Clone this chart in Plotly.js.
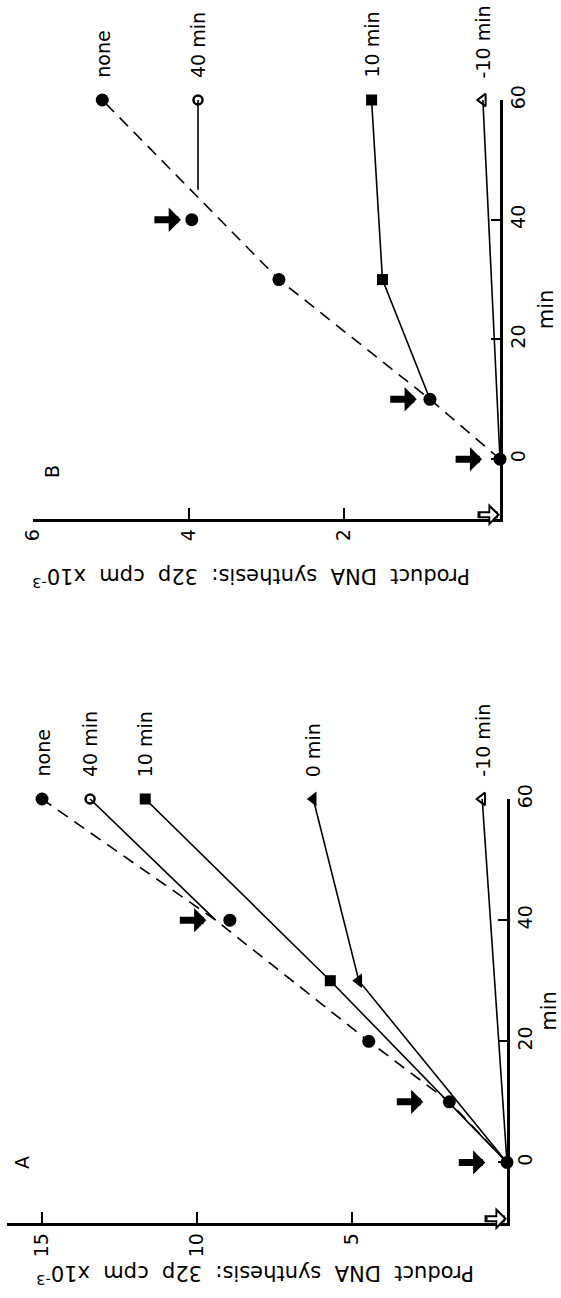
<!DOCTYPE html>
<html><head><meta charset="utf-8">
<script src="https://cdn.plot.ly/plotly-3.0.1.min.js"></script>
<style>html,body{margin:0;padding:0;background:#fff}#chart{width:561px;height:1298px}</style>
</head><body><div id="chart"></div>
<script>
// ---------- Panel A (time in min vs product DNA synthesis, cpm x10^-3) ----------
const A_none_t = [0, 10, 20, 40, 60];
const A_none_v = [0, 1.86, 4.46, 8.94, 15.0];
const A_noneCurve_t = [0, 10, 20, 40, 60];
const A_noneCurve_v = [0, 1.86, 4.46, 9.4, 15.0];
const A_m40_t = [40, 60];
const A_m40_v = [9.4, 13.45];
const A_m10_t = [0, 30, 60];
const A_m10_v = [0, 5.7, 11.67];
const A_m0_t = [0, 30, 60];
const A_m0_v = [0, 4.78, 6.25];
const A_mm10_t = [0, 60];
const A_mm10_v = [0, 0.8];
const A_arrow_t = [0, 10, 40];
const A_arrow_v = [0.7, 2.7, 9.7];
const A_open_t = [-9.3];
const A_open_v = [0];

// ---------- Panel B ----------
const B_none_t = [0, 10, 30, 40, 60];
const B_none_v = [0, 0.9, 2.84, 3.96, 5.11];
const B_noneCurve_t = [0, 10, 30, 60];
const B_noneCurve_v = [0, 0.9, 2.84, 5.11];
const B_m40_t = [45, 60];
const B_m40_v = [3.88, 3.88];
const B_m10_t = [10, 30, 60];
const B_m10_v = [0.9, 1.51, 1.65];
const B_mm10_t = [0, 60];
const B_mm10_v = [0, 0.22];
const B_arrow_t = [0, 10, 40];
const B_arrow_v = [0.23, 1.07, 4.1];
const B_open_t = [-9.3];
const B_open_v = [0];

// ---------- tick labels / texts ----------
const timeTicks = [0, 20, 40, 60];
const A_cpmTicks = [5, 10, 15];
const B_cpmTicks = [2, 4, 6];
const A_labels = ['none', '40 min', '10 min', '0 min', '-10 min'];
const B_labels = ['none', '40 min', '10 min', '-10 min'];
const yTitle = 'Product\u00a0\u00a0DNA\u00a0\u00a0synthesis:\u00a0\u00a032p\u00a0\u00a0cpm\u00a0\u00a0x10<sup>-3</sup>';
const xTitle = 'min';

const FONT = 'DejaVu Sans, Arial, sans-serif';
const K = 'black';

function lineTrace(t, v, xa, ya, dash) {
  return {x: v, y: t, xaxis: xa, yaxis: ya, mode: 'lines', type: 'scatter', cliponaxis: false,
          line: {color: K, width: 1.6, dash: dash || 'solid'}, hoverinfo: 'skip', showlegend: false};
}
function markTrace(t, v, xa, ya, symbol, sizes, lw) {
  return {x: v, y: t, xaxis: xa, yaxis: ya, mode: 'markers', type: 'scatter', cliponaxis: false,
          marker: {symbol: symbol, size: sizes, color: K, line: {color: K, width: lw || 0}},
          hoverinfo: 'skip', showlegend: false};
}

const traces = [
  // Panel A
  lineTrace(A_noneCurve_t, A_noneCurve_v, 'x', 'y', '12px,8px'),
  markTrace(A_none_t, A_none_v, 'x', 'y', 'circle', 13),
  lineTrace(A_m40_t, A_m40_v, 'x', 'y'),
  markTrace(A_m40_t.slice(-1), A_m40_v.slice(-1), 'x', 'y', 'circle-open', 9, 2.5),
  lineTrace(A_m10_t, A_m10_v, 'x', 'y'),
  markTrace(A_m10_t.slice(1), A_m10_v.slice(1), 'x', 'y', 'square', 11),
  lineTrace(A_m0_t, A_m0_v, 'x', 'y'),
  markTrace(A_m0_t.slice(1), A_m0_v.slice(1), 'x', 'y', 'triangle-left', 13),
  lineTrace(A_mm10_t, A_mm10_v, 'x', 'y'),
  markTrace(A_mm10_t.slice(-1), A_mm10_v.slice(-1), 'x', 'y', 'triangle-left-open', 11, 2),
  // Panel B
  lineTrace(B_noneCurve_t, B_noneCurve_v, 'x2', 'y2', '12px,8px'),
  markTrace(B_none_t, B_none_v, 'x2', 'y2', 'circle', 13),
  lineTrace(B_m40_t, B_m40_v, 'x2', 'y2'),
  markTrace(B_m40_t.slice(-1), B_m40_v.slice(-1), 'x2', 'y2', 'circle-open', 9, 2.5),
  lineTrace(B_m10_t, B_m10_v, 'x2', 'y2'),
  markTrace(B_m10_t.slice(1), B_m10_v.slice(1), 'x2', 'y2', 'square', 11),
  lineTrace(B_mm10_t, B_mm10_v, 'x2', 'y2'),
  markTrace(B_mm10_t.slice(-1), B_mm10_v.slice(-1), 'x2', 'y2', 'triangle-left-open', 11, 2)
];

const annotations = [];
function seriesLabels(labels, values, xr, yr) {
  labels.forEach((txt, i) => annotations.push({
    xref: xr, yref: yr, x: values[i], y: 60, text: txt, showarrow: false,
    textangle: -90, xanchor: 'center', yanchor: 'bottom', yshift: 20,
    font: {family: FONT, size: 19, color: K}
  }));
}
seriesLabels(A_labels, [A_none_v[4], A_m40_v[1], A_m10_v[2], A_m0_v[2], A_mm10_v[1]], 'x', 'y');
seriesLabels(B_labels, [B_none_v[4], B_m40_v[1], B_m10_v[2], B_mm10_v[1]], 'x2', 'y2');

function arrows(ts, vs, xr, yr) {
  ts.forEach((t, i) => annotations.push({
    xref: xr, yref: yr, x: vs[i], y: t, ax: -28, ay: 0, text: '', showarrow: true,
    arrowhead: 1, arrowsize: 0.58, arrowwidth: 7, arrowcolor: K
  }));
}
arrows(A_arrow_t, A_arrow_v, 'x', 'y');
arrows(B_arrow_t, B_arrow_v, 'x2', 'y2');

function openArrows(ts, vs, xr, yr) {
  ts.forEach((t, i) => {
    annotations.push({xref: xr, yref: yr, x: vs[i], y: t, ax: -24, ay: 0, text: '', showarrow: true,
      arrowhead: 1, arrowsize: 0.55, arrowwidth: 7, arrowcolor: K});
    annotations.push({xref: xr, yref: yr, x: vs[i], y: t, xshift: -3, ax: -18, ay: 0, text: '', showarrow: true,
      arrowhead: 1, arrowsize: 0.75, arrowwidth: 3, arrowcolor: 'white'});
  });
}
openArrows(A_open_t, A_open_v, 'x', 'y');
openArrows(B_open_t, B_open_v, 'x2', 'y2');

// axis titles for the value axes (upside down, as in the rotated figure)
annotations.push({xref: 'paper', yref: 'paper', x: 255/561, y: (1298-1275)/1298, text: yTitle, showarrow: false,
  textangle: 180, xanchor: 'center', yanchor: 'middle', font: {family: FONT, size: 21, color: K}});
annotations.push({xref: 'paper', yref: 'paper', x: 251/561, y: (1298-578)/1298, text: yTitle, showarrow: false,
  textangle: 180, xanchor: 'center', yanchor: 'middle', font: {family: FONT, size: 21, color: K}});
// panel letters
annotations.push({xref: 'paper', yref: 'paper', x: 22/561, y: (1298-1163)/1298, text: 'A', showarrow: false,
  textangle: -90, xanchor: 'center', yanchor: 'middle', font: {family: FONT, size: 19, color: K}});
annotations.push({xref: 'paper', yref: 'paper', x: 52/561, y: (1298-472)/1298, text: 'B', showarrow: false,
  textangle: -90, xanchor: 'center', yanchor: 'middle', font: {family: FONT, size: 19, color: K}});

function cpmAxis(dom, range, ticks, anchor) {
  return {domain: dom, range: range, autorange: false, anchor: anchor, side: 'bottom',
    showline: true, linewidth: 2.5, linecolor: K, showgrid: false, zeroline: false,
    ticks: 'inside', ticklen: 11, tickwidth: 2, tickcolor: K,
    tickvals: ticks, ticktext: ticks.map(String), tickangle: -90,
    tickfont: {family: FONT, size: 19, color: K}, fixedrange: true};
}
function timeAxis(dom, anchor) {
  return {domain: dom, range: [-10, 60], autorange: false, anchor: anchor, side: 'right',
    showline: true, linewidth: 2.5, linecolor: K, showgrid: false, zeroline: false,
    ticks: 'inside', ticklen: 9, tickwidth: 2, tickcolor: K,
    tickvals: timeTicks, ticktext: timeTicks.map(String), tickangle: -90,
    tickfont: {family: FONT, size: 19, color: K},
    title: {text: xTitle, font: {family: FONT, size: 21, color: K}, standoff: 10}, fixedrange: true};
}

const layout = {
  width: 561, height: 1298, margin: {l: 0, r: 0, t: 0, b: 0},
  paper_bgcolor: 'white', plot_bgcolor: 'white', showlegend: false,
  xaxis: cpmAxis([7/561, 507/561], [16.13, 0], A_cpmTicks, 'y'),
  yaxis: timeAxis([75/1298, 499/1298], 'x'),
  xaxis2: cpmAxis([33/561, 500/561], [6, 0], B_cpmTicks, 'y2'),
  yaxis2: timeAxis([779/1298, 1198/1298], 'x2'),
  annotations: annotations
};

Plotly.newPlot('chart', traces, layout, {displayModeBar: false, staticPlot: true});
</script></body></html>
